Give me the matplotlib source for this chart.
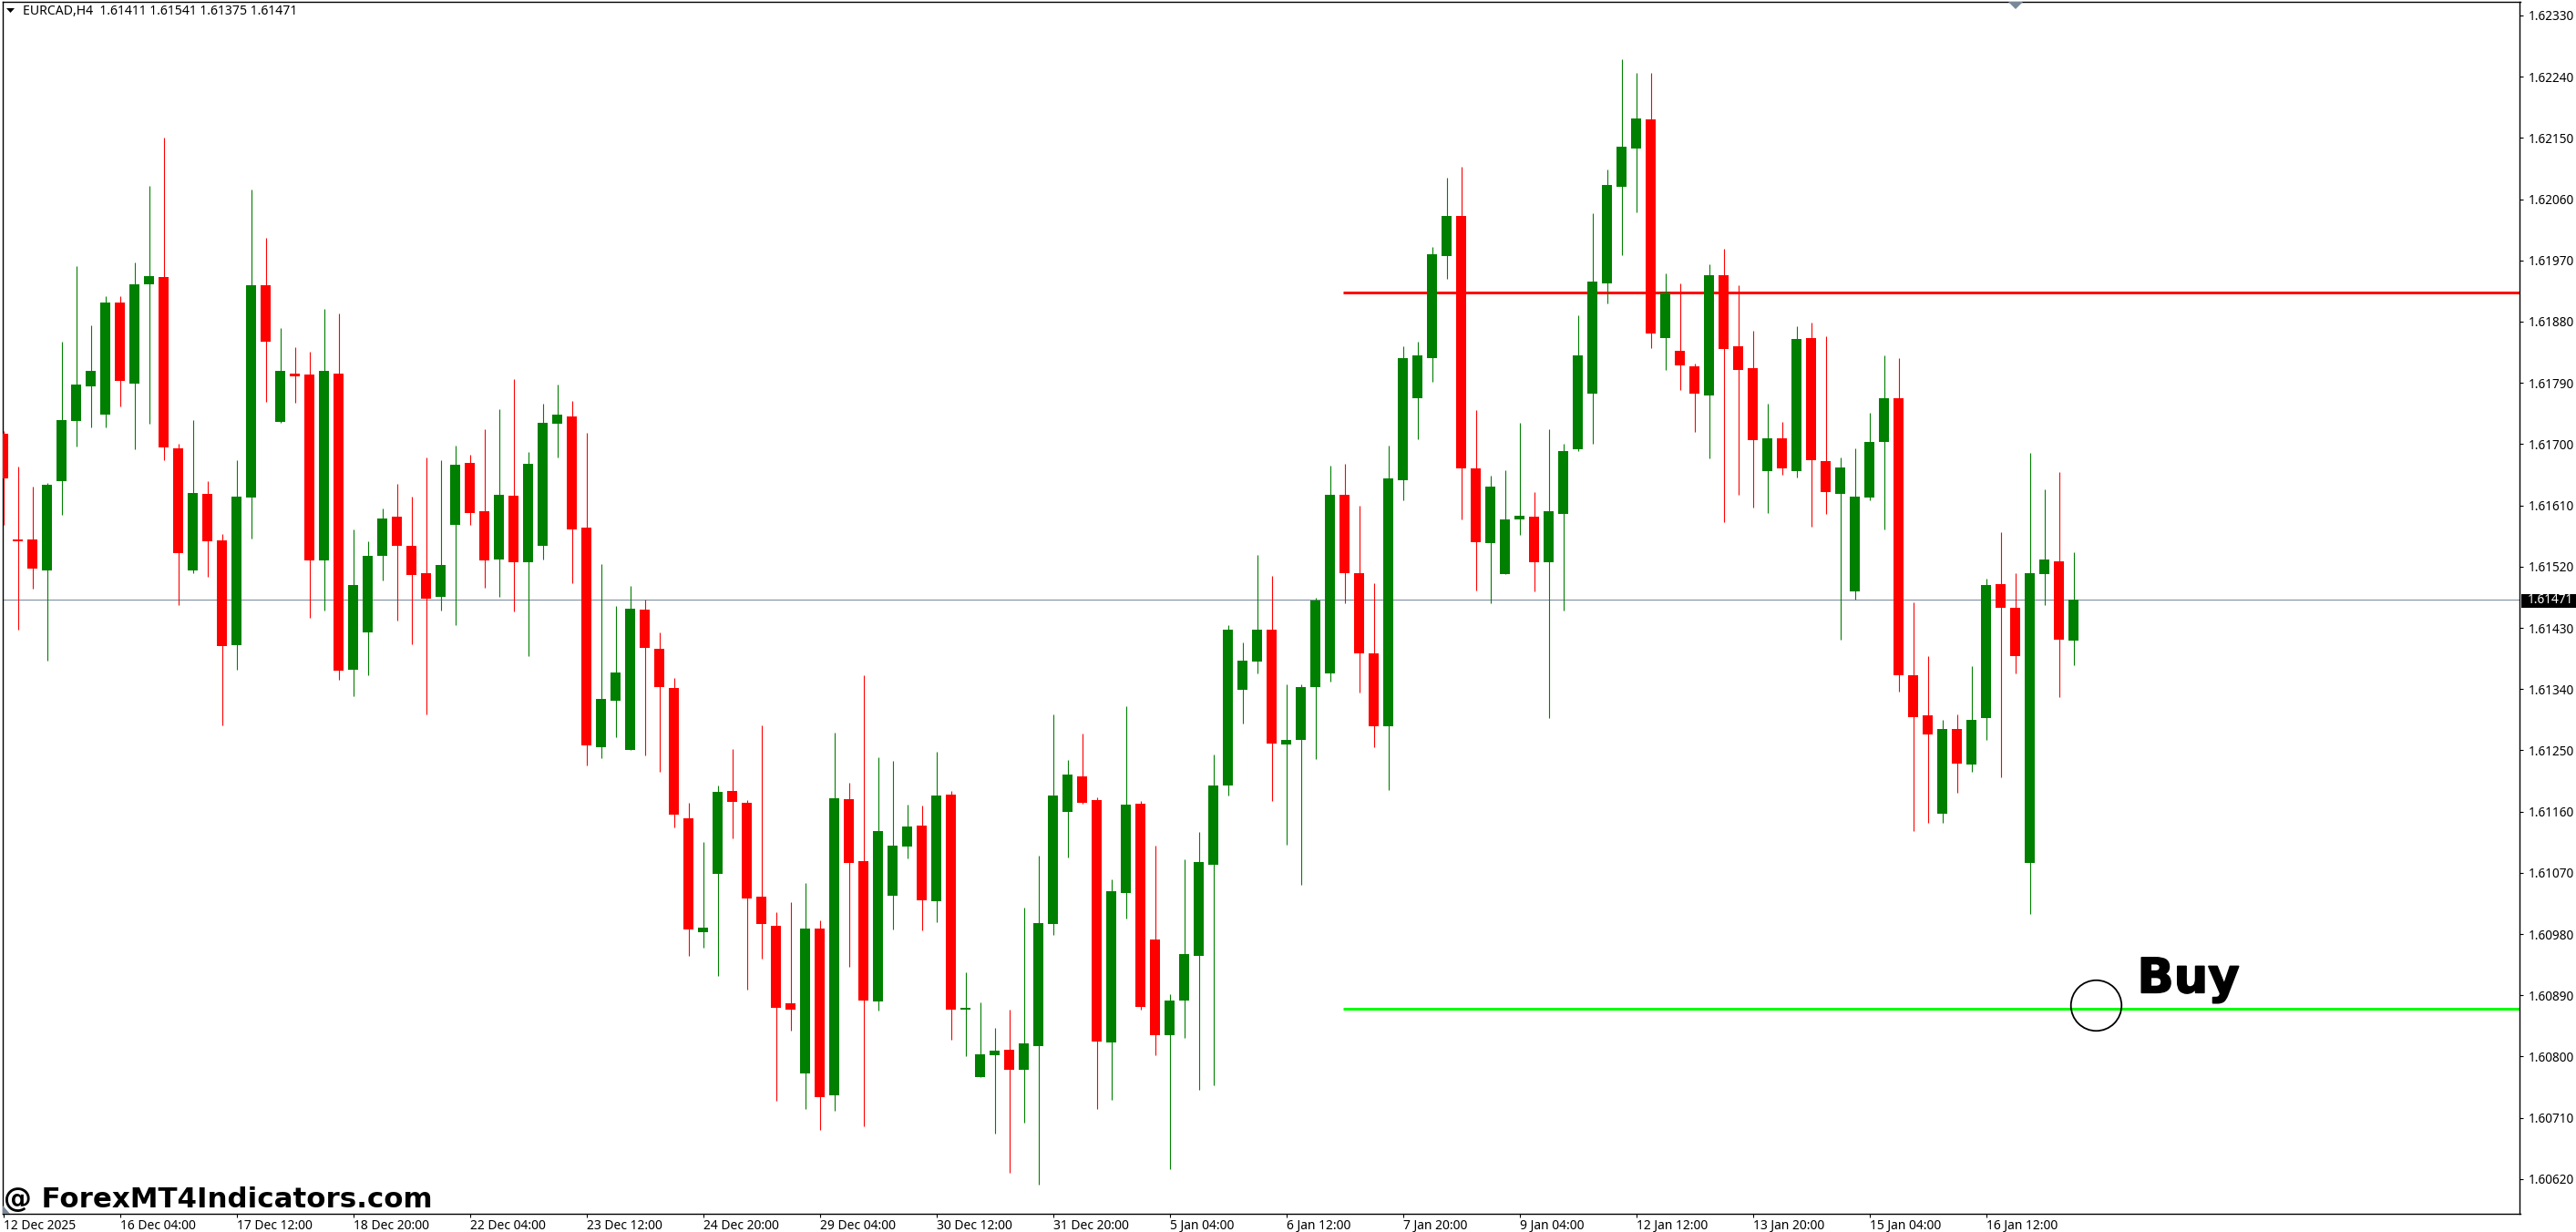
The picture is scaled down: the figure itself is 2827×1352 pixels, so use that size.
import numpy as np
from matplotlib import pyplot as plt
from matplotlib import patheffects
from matplotlib.patches import Polygon, Rectangle

W, H = 2827, 1352
DPI = 100

# quotes in points (price * 100000)
opens = [161715, 161560, 161560, 161515, 161645, 161734, 161785, 161743, 161908, 161789,
         161935, 161946, 161694, 161515, 161627, 161559, 161404, 161621, 161933, 161733,
         161804, 161802, 161529, 161804, 161369, 161423, 161536, 161593, 161550, 161511,
         161475, 161582, 161673, 161602, 161531, 161624, 161526, 161550, 161730, 161741,
         161578, 161254, 161323, 161251, 161457, 161399, 161341, 161150, 160983, 161068,
         161190, 161173, 161035, 160992, 160878, 160775, 160988, 160743, 161178, 161087,
         160881, 161037, 161109, 161140, 161028, 161185, 160869, 160770, 160802, 160810,
         160780, 160815, 160995, 161159, 161212, 161177, 160821, 161041, 161172, 160972,
         160832, 160882, 160948, 161082, 161198, 161339, 161380, 161428, 161258, 161265,
         161343, 161363, 161625, 161511, 161393, 161285, 161647, 161768, 161827, 161977,
         162035, 161665, 161554, 161509, 161589, 161594, 161526, 161597, 161692, 161774,
         161936, 162078, 162135, 162177, 161856, 161837, 161815, 161772, 161948, 161844,
         161812, 161660, 161709, 161661, 161856, 161675, 161627, 161483, 161621, 161703,
         161768, 161361, 161301, 161157, 161282, 161229, 161298, 161494, 161460, 161085,
         161509, 161528, 161411]
highs = [161719, 161667, 161637, 161643, 161850, 161962, 161875, 161918, 161917, 161967,
         162079, 162151, 161700, 161735, 161645, 161568, 161677, 162074, 162003, 161871,
         161843, 161836, 161899, 161892, 161575, 161557, 161606, 161642, 161623, 161681,
         161676, 161698, 161685, 161722, 161752, 161795, 161688, 161760, 161788, 161764,
         161717, 161524, 161462, 161492, 161471, 161424, 161357, 161173, 161116, 161198,
         161252, 161177, 161287, 161012, 161027, 161055, 161000, 161276, 161203, 161360,
         161240, 161235, 161170, 161169, 161248, 161190, 160924, 160880, 160842, 160869,
         161019, 161095, 161303, 161236, 161275, 161181, 161061, 161315, 161175, 161110,
         160892, 161090, 161130, 161244, 161434, 161409, 161537, 161506, 161347, 161347,
         161474, 161668, 161671, 161610, 161496, 161698, 161844, 161850, 161990, 162092,
         162108, 161750, 161653, 161662, 161732, 161630, 161722, 161700, 161890, 162039,
         162104, 162265, 162246, 162246, 161951, 161936, 161819, 161965, 161987, 161933,
         161866, 161759, 161733, 161873, 161879, 161858, 161681, 161694, 161746, 161830,
         161827, 161468, 161388, 161295, 161303, 161374, 161503, 161571, 161511, 161687,
         161634, 161659, 161541]
lows = [161582, 161427, 161488, 161382, 161596, 161697, 161725, 161724, 161755, 161693,
        161730, 161676, 161464, 161511, 161505, 161287, 161369, 161561, 161762, 161732,
        161761, 161445, 161456, 161354, 161329, 161360, 161500, 161441, 161406, 161303,
        161456, 161434, 161582, 161489, 161475, 161454, 161388, 161531, 161681, 161495,
        161228, 161238, 161270, 161250, 161242, 161218, 161137, 160948, 160960, 160919,
        161121, 160899, 160944, 160735, 160838, 160723, 160692, 160720, 160932, 160697,
        160867, 160987, 161091, 160985, 160997, 160825, 160801, 160770, 160687, 160629,
        160703, 160612, 160979, 161093, 161172, 160723, 160737, 161003, 160869, 160802,
        160635, 160828, 160751, 160758, 161184, 161289, 161363, 161175, 161111, 161053,
        161237, 161351, 161466, 161335, 161254, 161192, 161617, 161707, 161791, 161943,
        161589, 161485, 161466, 161509, 161566, 161484, 161298, 161455, 161690, 161700,
        161907, 161978, 162041, 161841, 161809, 161780, 161718, 161679, 161586, 161626,
        161607, 161599, 161655, 161651, 161579, 161598, 161412, 161471, 161617, 161574,
        161336, 161131, 161143, 161144, 161187, 161219, 161265, 161210, 161363, 161009,
        161463, 161328, 161375]
closes = [161649, 161557, 161517, 161640, 161735, 161788, 161807, 161908, 161793, 161935,
          161947, 161695, 161540, 161628, 161557, 161403, 161623, 161933, 161850, 161807,
          161800, 161529, 161807, 161367, 161493, 161536, 161591, 161550, 161508, 161473,
          161522, 161670, 161599, 161529, 161626, 161526, 161671, 161732, 161743, 161575,
          161257, 161326, 161364, 161458, 161400, 161343, 161155, 160987, 160990, 161189,
          161174, 161032, 160995, 160871, 160869, 160988, 160741, 161180, 161085, 160882,
          161132, 161110, 161138, 161030, 161184, 160869, 160871, 160803, 160809, 160780,
          160819, 160996, 161184, 161215, 161173, 160822, 161043, 161170, 160873, 160832,
          160882, 160950, 161086, 161198, 161428, 161382, 161428, 161260, 161265, 161343,
          161470, 161625, 161510, 161393, 161285, 161650, 161826, 161830, 161979, 162035,
          161664, 161556, 161638, 161590, 161595, 161526, 161602, 161690, 161831, 161939,
          162081, 162137, 162179, 161862, 161923, 161816, 161774, 161948, 161840, 161809,
          161706, 161709, 161664, 161855, 161677, 161629, 161666, 161623, 161703, 161767,
          161361, 161299, 161273, 161282, 161230, 161295, 161493, 161460, 161388, 161511,
          161530, 161413, 161471]

date_labels = ['12 Dec 2025', '16 Dec 04:00', '17 Dec 12:00', '18 Dec 20:00', '22 Dec 04:00',
               '23 Dec 12:00', '24 Dec 20:00', '29 Dec 04:00', '30 Dec 12:00', '31 Dec 20:00',
               '5 Jan 04:00', '6 Jan 12:00', '7 Jan 20:00', '9 Jan 04:00', '12 Jan 12:00',
               '13 Jan 20:00', '15 Jan 04:00', '16 Jan 12:00']
price_ticks = [1.62330, 1.62240, 1.62150, 1.62060, 1.61970, 1.61880, 1.61790, 1.61700, 1.61610,
               1.61520, 1.61430, 1.61340, 1.61250, 1.61160, 1.61070, 1.60980, 1.60890, 1.60800,
               1.60710, 1.60620]

bid = 1.61471
sell_level = 1.61923
buy_level = 1.60870
levels_start = 91.9

o = np.array(opens) / 1e5
h = np.array(highs) / 1e5
l = np.array(lows) / 1e5
c = np.array(closes) / 1e5
idx = np.arange(len(o))
up = c >= o
colors = np.where(up, '#008000', '#ff0000')

plt.rcParams['font.family'] = ['Noto Sans', 'DejaVu Sans']

fig = plt.figure(figsize=(W / DPI, H / DPI), dpi=DPI, facecolor='white')
ax = fig.add_axes([3 / W, 1 - 1332 / H, (2765.5 - 3) / W, (1332 - 2) / H])
ax.set_xlim(-0.04, 172.6)
ax.set_ylim(1.60569, 1.62350)

ax.axhline(bid, color='#778899', lw=0.72, zorder=1)
ax.plot([levels_start, 172.6], [sell_level, sell_level], color='#ff0000', lw=2.16, zorder=2,
        solid_capstyle='butt')
ax.plot([levels_start, 172.6], [buy_level, buy_level], color='#00ff00', lw=2.16, zorder=2,
        solid_capstyle='butt')

wicks = ax.vlines(idx, l, h, colors=colors, lw=0.8, zorder=3)
wicks.set_snap(True)
ax.bar(idx, np.abs(c - o), bottom=np.minimum(o, c), width=0.69, color=colors, lw=0, zorder=4)

# signal marker
ax.plot([143.5], [1.60876], marker='o', ms=40, mfc='none', mec='black', mew=1.3, zorder=5)
buy = ax.text(146.35, 1.60894, 'Buy', family='DejaVu Sans', weight='bold', fontsize=38, color='black',
              ha='left', va='baseline', zorder=6)
buy.set_path_effects([patheffects.withStroke(linewidth=1.2, foreground='black')])

ax.set_xticks(idx[::8])
ax.set_xticklabels(date_labels, ha='left', fontsize=10)
ax.yaxis.tick_right()
ax.set_yticks(price_ticks)
ax.set_yticklabels([f'{p:.5f}' for p in price_ticks], fontsize=9.8)
ax.tick_params(axis='x', length=3, width=0.8, pad=1.5)
ax.tick_params(axis='y', length=3, width=0.8, pad=4)
for s in ax.spines.values():
    s.set_linewidth(1.0)

# current price tag on the scale, under the axes so the text stays on top
fig.add_artist(Rectangle((2767 / W, 1 - 667 / H), 60 / W, 15 / H, fc='black', ec='none',
                         transform=fig.transFigure, zorder=-1))
ax.text(1.0029, bid, f'{bid:.5f}', transform=ax.get_yaxis_transform(), fontsize=9.8, color='white',
        va='center', ha='left', clip_on=False, zorder=7)

# header and watermark
fig.text(25 / W, 1 - 13 / H, 'EURCAD,H4  1.61411 1.61541 1.61375 1.61471', fontsize=10.1,
         va='center', ha='left')
fig.add_artist(Polygon([[7 / W, 1 - 9 / H], [16 / W, 1 - 9 / H], [11.5 / W, 1 - 14 / H]],
                       closed=True, fc='black', ec='none', transform=fig.transFigure))
fig.text(4 / W, 1 - 1325 / H, '@ ForexMT4Indicators.com', family='DejaVu Sans', weight='bold',
         fontsize=22.2, va='baseline', ha='left', color='black')

# little grey handles of the terminal
fig.add_artist(Polygon([[2204 / W, 1 - 2 / H], [2220 / W, 1 - 2 / H], [2212 / W, 1 - 10 / H]],
                       closed=True, fc='#778899', ec='none', transform=fig.transFigure))
fig.add_artist(Polygon([[3 / W, 1 - 1323 / H], [3 / W, 1 - 1332 / H], [11 / W, 1 - 1332 / H]],
                       closed=True, fc='#778899', ec='none', transform=fig.transFigure))

fig.savefig('out.png', dpi=DPI, facecolor='white')
